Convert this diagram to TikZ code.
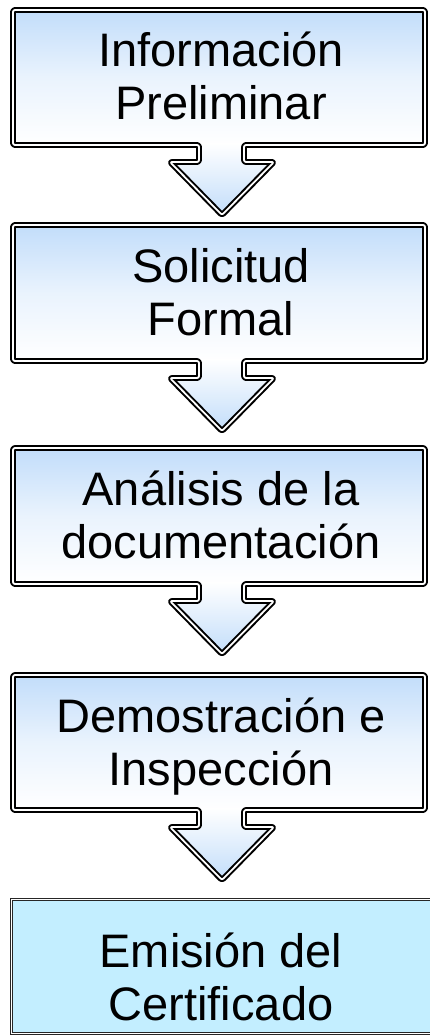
\documentclass[tikz,border=0pt]{standalone}
\usepackage{fontspec}
\setmainfont{Liberation Sans}
\definecolor{fb}{RGB}{194,221,250}
\definecolor{lastfill}{RGB}{195,238,255}
\tikzset{
  stepoutline/.style={draw=black, line width=2pt, double=white, double distance=1.8pt, rounded corners=2pt, line join=round},
  boxshade/.style={top color=fb, bottom color=white, middle color=fb!35!white, draw=none},
  arrowshade/.style={top color=white, bottom color=fb, draw=none},
  lastbox/.style={draw=black!85, line width=1pt, double=white, double distance=1pt, fill=lastfill},
  lbl/.style={anchor=base, font=\fontsize{47}{53}\selectfont, inner sep=0pt},
}
\begin{document}
\begin{tikzpicture}[x=1pt, y=-1pt]
\useasboundingbox (0,0) rectangle (429,1035);
\foreach \T/\B in {10/145, 225/361, 448/584, 675/810} {
  \shade[boxshade] (13,\T) rectangle (425,\B);
  \shade[arrowshade] (199,\B-2) -- (244,\B-2) -- (244,\B+17) -- (274,\B+17) -- (222,\B+70) -- (170,\B+17) -- (199,\B+17) -- cycle;
  \draw[stepoutline] (13,\T) -- (425,\T) -- (425,\B) -- (244,\B) -- (244,\B+17) -- (274,\B+17) -- (222,\B+70) -- (170,\B+17) -- (199,\B+17) -- (199,\B) -- (13,\B) -- cycle;
}
\draw[lastbox] (11,899) rectangle (445,1033);
\node[lbl] (t1a) at (221,67) {Información};
\node[lbl] (t1b) at (221,120) {Preliminar};
\node[lbl] (t2a) at (221,282) {Solicitud};
\node[lbl] (t2b) at (221,335) {Formal};
\node[lbl] (t3a) at (221,505) {Análisis de la};
\node[lbl] (t3b) at (221,558) {documentación};
\node[lbl] (t4a) at (221,732) {Demostración e};
\node[lbl] (t4b) at (221,785) {Inspección};
\node[lbl] (t5a) at (221,967) {Emisión del};
\node[lbl] (t5b) at (221,1020) {Certificado};
\end{tikzpicture}
\end{document}
